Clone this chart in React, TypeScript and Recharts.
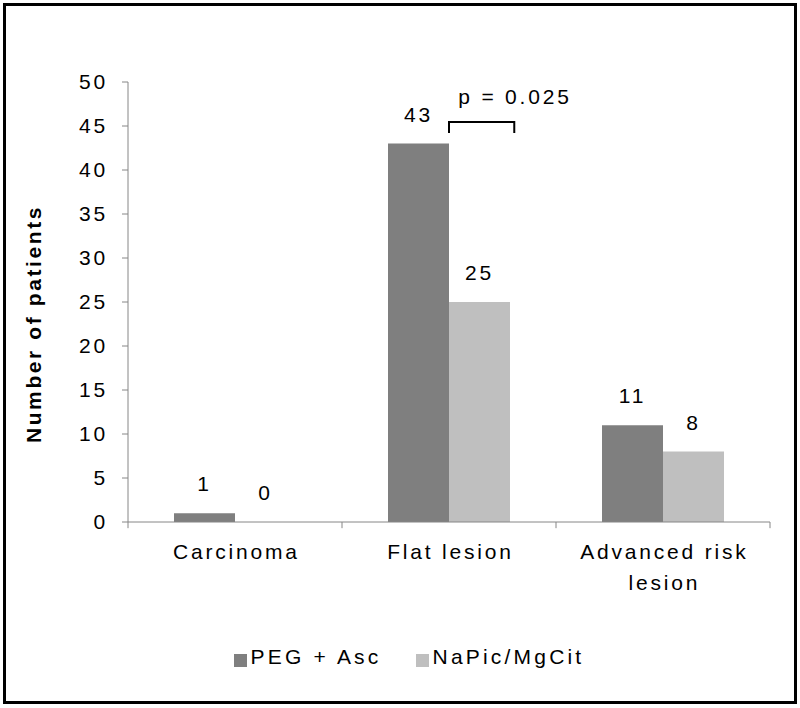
import React from 'react';
import {
  BarChart,
  Bar,
  XAxis,
  YAxis,
  LabelList,
  Legend,
  ReferenceLine,
  ReferenceDot,
} from 'recharts';

const FONT = 'Arial, "Liberation Sans", sans-serif';
const AXIS = '#868686';
const LS = 2.8; // the source picture is stretched sideways, so widen the text a bit

const categories = ['Carcinoma', 'Flat lesion', 'Advanced risk lesion'];
const pegAsc = [1, 43, 11];
const napicMgcit = [0, 25, 8];
const seriesNames = ['PEG + Asc', 'NaPic/MgCit'];
const yTicks = [0, 5, 10, 15, 20, 25, 30, 35, 40, 45, 50];
const pText = 'p = 0.025';
const pCategory = 'Flat lesion';

const data = categories.map((name, i) => ({ name, peg: pegAsc[i], napic: napicMgcit[i] }));

// bracket over the Flat lesion pair, in y units
const bracketTop = 45.45;
const bracketFootPx = 11;
const tickDown = -0.7;
const MAX_LINE_CHARS = 14;

// greedy word wrap by character count
function wrapLabel(s: string) {
  const lines: string[] = [];
  let cur = '';
  s.split(' ').forEach((w) => {
    const next = cur ? cur + ' ' + w : w;
    if (next.length > MAX_LINE_CHARS && cur) {
      lines.push(cur);
      cur = w;
    } else cur = next;
  });
  if (cur) lines.push(cur);
  return lines;
}

const CategoryTick = ({ x, y, payload }: any) => (
  <text
    x={x}
    y={y}
    textAnchor="middle"
    fontSize={21}
    fontFamily={FONT}
    letterSpacing={LS}
    fill="#000"
  >
    {wrapLabel(String(payload.value)).map((line, i) => (
      <tspan key={i} x={x + LS / 2} dy={i === 0 ? 25 : 31}>
        {line}
      </tspan>
    ))}
  </text>
);

const YLabel = () => (
  <text
    x={41}
    y={324}
    transform="rotate(-90 41 324)"
    textAnchor="middle"
    fontSize={21}
    fontWeight="bold"
    fontFamily={FONT}
    letterSpacing={2.6}
    fill="#000"
  >
    Number of patients
  </text>
);

// segment runs from the middle of Flat lesion to the middle of the next band;
// the bracket covers the first 30% of it (out to the right edge of the light bar)
const Bracket = ({ x1, y1, x2 }: any) => {
  const right = x1 + (x2 - x1) * 0.305;
  return (
    <path
      d={`M${x1},${y1 + bracketFootPx} L${x1},${y1} L${right},${y1} L${right},${y1 + bracketFootPx}`}
      stroke="#000"
      strokeWidth={2}
      fill="none"
    />
  );
};

export default function App() {
  const last = categories[categories.length - 1];
  const next = categories[categories.indexOf(pCategory) + 1];
  return (
    <div style={{ position: 'absolute', left: 0, top: 0, width: 800, height: 708, background: '#fff' }}>
      <div
        style={{
          position: 'absolute',
          left: 3,
          top: 3,
          width: 794,
          height: 701,
          border: '3px solid #000',
          boxSizing: 'border-box',
        }}
      />
      <div style={{ position: 'absolute', left: 0, top: 0 }}>
        <BarChart
          width={800}
          height={708}
          data={data}
          margin={{ top: 82, right: 30, left: 0, bottom: 39 }}
          barGap={0}
          barSize={61}
        >
          <XAxis
            dataKey="name"
            stroke={AXIS}
            tickLine={false}
            height={123}
            tickMargin={6}
            tick={<CategoryTick />}
            interval={0}
          />
          <YAxis
            width={128}
            domain={[0, 50]}
            ticks={yTicks}
            interval={0}
            stroke={AXIS}
            tickSize={6}
            tickMargin={14}
            tick={{ fontSize: 21, fill: '#000', fontFamily: FONT, letterSpacing: LS }}
            label={<YLabel />}
          />
          <Legend
            verticalAlign="bottom"
            iconType="square"
            iconSize={13}
            itemSorter={(item: any) => seriesNames.indexOf(item.value)}
            wrapperStyle={{ left: 0, width: 800, paddingLeft: 26 }}
            formatter={(v: any) => (
              <span style={{ color: '#000', fontSize: 21, fontFamily: FONT, letterSpacing: 3.2, marginRight: 24 }}>{v}</span>
            )}
          />
          <Bar dataKey="peg" name={seriesNames[0]} fill="#7f7f7f" isAnimationActive={false}>
            <LabelList dataKey="peg" position="top" offset={22} fontSize={21} fill="#000" fontFamily={FONT} letterSpacing={LS} />
          </Bar>
          <Bar dataKey="napic" name={seriesNames[1]} fill="#bfbfbf" minPointSize={0.01} isAnimationActive={false}>
            <LabelList dataKey="napic" position="top" offset={22} fontSize={21} fill="#000" fontFamily={FONT} letterSpacing={LS} />
          </Bar>
          {/* category boundary ticks under the x axis */}
          {categories.map((c) => (
            <ReferenceLine
              key={c}
              segment={[{ x: c, y: 0 }, { x: c, y: tickDown }]}
              position="start"
              stroke={AXIS}
              ifOverflow="visible"
            />
          ))}
          <ReferenceLine
            segment={[{ x: last, y: 0 }, { x: last, y: tickDown }]}
            position="end"
            stroke={AXIS}
            ifOverflow="visible"
          />
          <ReferenceLine
            segment={[{ x: pCategory, y: bracketTop }, { x: next, y: bracketTop }]}
            position="middle"
            ifOverflow="visible"
            shape={<Bracket />}
          />
          <ReferenceDot
            x={pCategory}
            y={48.3}
            r={0}
            stroke="none"
            fill="none"
            ifOverflow="visible"
            label={{ value: pText, position: 'center', dx: 66, fontSize: 21, fill: '#000', fontFamily: FONT, letterSpacing: LS }}
          />
        </BarChart>
      </div>
    </div>
  );
}
